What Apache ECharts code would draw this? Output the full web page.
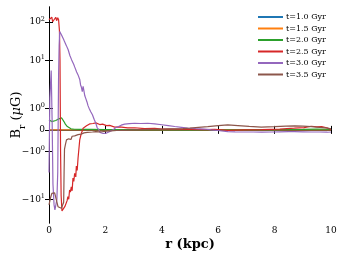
<!DOCTYPE html>
<html><head><meta charset="utf-8">
<script src="https://cdn.jsdelivr.net/npm/echarts@6/dist/echarts.min.js"></script>
<style>html,body{margin:0;padding:0;background:#fff}#c{width:346px;height:259px}</style>
</head><body><div id="c"></div>
<script>
// ---- data (r in kpc, B_r in microGauss) ----
const seriesNames = ['t=1.0 Gyr','t=1.5 Gyr','t=2.0 Gyr','t=2.5 Gyr','t=3.0 Gyr','t=3.5 Gyr'];
const colors = ['#1f77b4','#ff7f0e','#2ca02c','#d62728','#9467bd','#8c564b'];
const xTicks = [0,2,4,6,8,10];
const yTickValues = [-10,-1,0,1,10,100];
const yTickLabels = ['\u221210{s|1}','\u221210{s|0}','0','10{s|0}','10{s|1}','10{s|2}'];

const blue = [[0,0],[2,0],[4,0],[6,0],[8,0],[10,0]];
const orange = [[0,0],[2,0],[4,0],[6,0],[8,0],[10,0]];
const green = [[0,0.47],[0.05,0.42],[0.1,0.39],[0.17,0.41],[0.24,0.44],[0.3,0.48],[0.35,0.52],[0.4,0.53],[0.45,0.56],[0.49,0.5],[0.53,0.39],[0.58,0.27],[0.65,0.155],[0.72,0.09],[0.78,0.05],[0.9,0.03],[1.1,0.02],[1.5,0.02],[2,0.01],[3,0.01],[4,0.01],[5,0.0],[6,0.0],[7,0.0],[8,0.01],[9,0.02],[9.5,0.04],[9.8,0.03],[10,0.02]];
const red = [[0,115],[0.04,122],[0.10,134],[0.13,102],[0.18,115],[0.24,134],[0.27,109],[0.31,130],[0.34,115],[0.37,60],[0.39,10],[0.41,-1],[0.43,-8],[0.46,-20],[0.475,-22.3],[0.50,-19],[0.53,-21],[0.56,-15.6],[0.61,-17],[0.64,-11],[0.67,-8.5],[0.70,-10],[0.73,-5.7],[0.76,-6.5],[0.79,-4.7],[0.82,-6],[0.85,-2.8],[0.88,-3.4],[0.91,-2.1],[0.95,-2.6],[0.97,-1.7],[1.00,-1.9],[1.03,-1.33],[1.06,-0.9],[1.09,-0.47],[1.12,-0.3],[1.15,-0.15],[1.18,-0.05],[1.21,0.08],[1.27,0.12],[1.33,0.19],[1.39,0.24],[1.44,0.28],[1.50,0.33],[1.56,0.3],[1.61,0.36],[1.66,0.33],[1.73,0.28],[1.80,0.25],[1.90,0.27],[2.04,0.2],[2.15,0.21],[2.33,0.13],[2.5,0.14],[2.79,0.09],[3.04,0.1],[3.39,0.06],[3.75,0.07],[4.0,0.04],[4.46,0.04],[4.99,0.02],[5.52,0.01],[5.88,0.02],[6.34,-0.02],[6.94,0.0],[7.54,0.01],[8.18,0.04],[8.7,0.08],[9.05,0.11],[9.3,0.17],[9.5,0.14],[9.67,0.15],[9.85,0.1],[10,0.02]];
const purple = [[0,-2],[0.03,1.5],[0.078,5.5],[0.11,0.5],[0.14,-4],[0.18,-14],[0.21,-19],[0.25,-20],[0.28,-10],[0.31,-2],[0.34,4],[0.36,25],[0.38,57],[0.41,52],[0.44,47],[0.475,42],[0.52,35],[0.55,31],[0.59,28.4],[0.62,24],[0.645,22],[0.68,19],[0.71,17.1],[0.74,13.5],[0.77,12],[0.80,10.5],[0.83,9.4],[0.875,8],[0.91,6.8],[0.95,6.3],[0.98,5],[1.0,4.5],[1.03,4.2],[1.06,3.8],[1.09,3.2],[1.12,2.3],[1.15,2.0],[1.18,1.8],[1.21,2.1],[1.24,1.96],[1.27,1.6],[1.30,1.49],[1.35,1.3],[1.38,1.15],[1.42,1.02],[1.48,0.85],[1.54,0.71],[1.60,0.5],[1.66,0.31],[1.71,0.1],[1.77,0],[1.81,-0.12],[1.86,-0.2],[1.92,-0.17],[1.98,-0.23],[2.04,-0.15],[2.09,-0.16],[2.18,-0.06],[2.27,0.0],[2.36,0.1],[2.45,0.15],[2.56,0.22],[2.68,0.27],[2.85,0.29],[3.04,0.31],[3.25,0.3],[3.5,0.31],[3.75,0.28],[4.0,0.24],[4.23,0.2],[4.46,0.16],[4.7,0.12],[4.92,0.08],[5.2,0.06],[5.52,0.04],[5.75,0.0],[5.98,-0.03],[6.34,-0.08],[6.6,-0.09],[6.94,-0.1],[7.25,-0.1],[7.54,-0.11],[7.9,-0.1],[8.18,-0.09],[8.5,-0.08],[8.7,-0.08],[9.0,-0.09],[9.3,-0.1],[9.6,-0.1],[9.87,-0.11],[10,-0.1]];
const brown = [[0,-14],[0.05,-9.4],[0.10,-7],[0.14,-6.3],[0.2,-6.8],[0.26,-7],[0.32,-15.6],[0.38,-16],[0.44,-17.1],[0.50,-19],[0.52,-12],[0.535,-2],[0.55,-0.9],[0.58,-0.7],[0.62,-0.47],[0.66,-0.55],[0.70,-0.42],[0.73,-0.39],[0.78,-0.45],[0.82,-0.3],[0.85,-0.35],[0.91,-0.28],[0.97,-0.235],[1.03,-0.22],[1.09,-0.155],[1.14,-0.2],[1.18,-0.16],[1.24,-0.14],[1.30,-0.13],[1.36,-0.12],[1.42,-0.11],[1.54,-0.1],[1.66,-0.08],[1.78,-0.09],[1.90,-0.08],[2.05,-0.06],[2.2,-0.05],[2.4,-0.03],[2.6,-0.02],[2.8,-0.01],[3.0,0.0],[3.25,0.01],[3.5,0.02],[3.75,0.03],[4.0,0.04],[4.25,0.05],[4.5,0.05],[4.75,0.06],[5.0,0.08],[5.3,0.12],[5.63,0.155],[6.0,0.2],[6.34,0.235],[6.7,0.2],[7.1,0.16],[7.53,0.13],[8.0,0.15],[8.4,0.18],[8.71,0.19],[9.0,0.18],[9.3,0.155],[9.6,0.12],[9.88,0.08],[10,0.05]];
const allSeries = [blue, orange, green, red, purple, brown];

// ---- symmetric-log scale (linthresh 2, linscale 1) ----
const LT = 2, S = 1 / (1 - 1 / 10);
function symlog(v) {
  const a = Math.abs(v);
  if (a <= LT) return v / LT * S;
  return Math.sign(v) * (S + Math.log10(a / LT));
}
const yMin = -2.428, yMax = 3.204;
const yTickPos = yTickValues.map(symlog);
function yLabel(v) {
  for (let i = 0; i < yTickPos.length; i++) if (Math.abs(v - yTickPos[i]) < 1e-6) return yTickLabels[i];
  return '';
}

const FONT = 'DejaVu Serif';
const chart = echarts.init(document.getElementById('c'), null, {renderer: 'canvas'});
const axisLine = {show: true, lineStyle: {color: '#000', width: 1}};
chart.setOption({
  animation: false,
  backgroundColor: '#fff',
  grid: {left: 49, right: 15, top: 7, bottom: 36, containLabel: false, outerBoundsMode: 'none'},
  legend: {
    data: seriesNames, orient: 'vertical', left: 258, top: 13, padding: 0,
    icon: 'rect', itemWidth: 25, itemHeight: 2, itemGap: 3.5,
    textStyle: {fontFamily: FONT, fontSize: 8, color: '#000', lineHeight: 8, padding: [0, 0, 0, -2]}
  },
  xAxis: [{
    type: 'value', min: 0, max: 10, interval: 2, position: 'bottom',
    name: 'r (kpc)', nameLocation: 'middle', nameGap: 15, nameMoveOverlap: false,
    nameTextStyle: {fontFamily: FONT, fontSize: 13, fontWeight: 'bold', color: '#000'},
    axisLine: axisLine, splitLine: {show: false},
    axisTick: {show: true, inside: true, length: 4, lineStyle: {color: '#000'}},
    axisLabel: {fontFamily: FONT, fontSize: 9, color: '#000', margin: 3}
  }, {
    type: 'value', min: 0, max: 10, interval: 2, position: 'top',
    axisLine: axisLine, splitLine: {show: false},
    axisTick: {show: true, inside: true, length: 4, lineStyle: {color: '#000'}},
    axisLabel: {show: false}
  }],
  yAxis: [{
    type: 'value', min: yMin, max: yMax, position: 'left',
    name: 'B{sub|r} ({mu|\u03bc}G)', nameLocation: 'middle', nameGap: 26, nameRotate: 90, nameMoveOverlap: false,
    nameTextStyle: {fontFamily: FONT, fontSize: 13, color: '#000',
      rich: {sub: {fontFamily: FONT, fontSize: 9, verticalAlign: 'bottom', lineHeight: 9, padding: [0, 0, -4, 0]},
             mu: {fontFamily: FONT, fontSize: 13, fontStyle: 'italic'}}},
    axisLine: axisLine, splitLine: {show: false},
    axisTick: {show: true, inside: true, length: 4, lineStyle: {color: '#000'}, customValues: yTickPos},
    axisLabel: {customValues: yTickPos, formatter: yLabel, margin: 4,
      fontFamily: FONT, fontSize: 9, color: '#000', lineHeight: 13,
      rich: {s: {fontFamily: FONT, fontSize: 6.5, lineHeight: 7, verticalAlign: 'top', color: '#000'}}}
  }, {
    type: 'value', min: yMin, max: yMax, position: 'right',
    axisLine: axisLine, splitLine: {show: false},
    axisTick: {show: true, inside: true, length: 4, lineStyle: {color: '#000'}, customValues: yTickPos},
    axisLabel: {show: false}
  }],
  series: allSeries.map((d, i) => ({
    name: seriesNames[i], type: 'line', xAxisIndex: 0, yAxisIndex: 0,
    data: d.map(p => [p[0], symlog(p[1])]),
    showSymbol: false, symbol: 'none',
    lineStyle: {color: colors[i], width: 1.2},
    itemStyle: {color: colors[i]}
  }))
});
</script></body></html>
